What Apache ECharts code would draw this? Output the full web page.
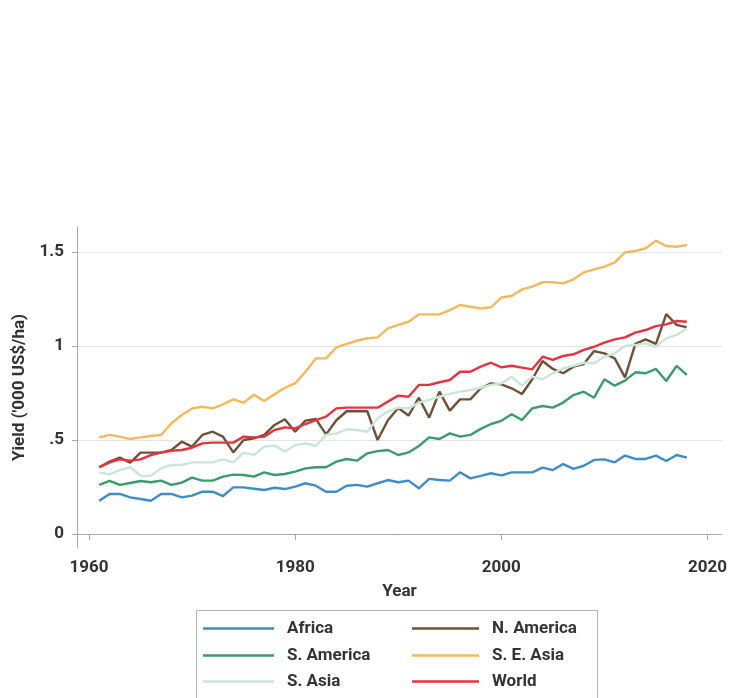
<!DOCTYPE html>
<html>
<head>
<meta charset="utf-8">
<script src="https://cdn.jsdelivr.net/npm/echarts@6/dist/echarts.min.js"></script>
<style>html,body{margin:0;padding:0;background:#fff;}#c{width:730px;height:698px;}</style>
</head>
<body>
<div id="c"></div>
<script>
const years = [1961,1962,1963,1964,1965,1966,1967,1968,1969,1970,1971,1972,1973,1974,1975,1976,1977,1978,1979,
1980,1981,1982,1983,1984,1985,1986,1987,1988,1989,1990,1991,1992,1993,1994,1995,1996,1997,1998,1999,
2000,2001,2002,2003,2004,2005,2006,2007,2008,2009,2010,2011,2012,2013,2014,2015,2016,2017,2018];

const africa = [.177,.213,.213,.195,.186,.177,.213,.213,.195,.204,.225,.225,.202,.248,.248,.241,.234,.246,.239,
.252,.27,.257,.225,.225,.257,.261,.252,.27,.287,.275,.284,.243,.293,.287,.284,.328,.296,.309,.323,
.312,.328,.328,.328,.353,.34,.372,.346,.363,.394,.397,.381,.417,.399,.399,.417,.388,.42,.406];

const nAmerica = [.355,.385,.406,.379,.433,.433,.433,.447,.491,.465,.527,.544,.518,.434,.5,.509,.527,.58,.61,
.544,.603,.612,.53,.605,.653,.653,.653,.5,.605,.67,.63,.725,.619,.757,.656,.716,.716,.775,.801,
.796,.775,.745,.823,.92,.878,.855,.89,.904,.973,.961,.934,.833,1.011,1.035,1.011,1.17,1.112,1.099];

const sAmerica = [.261,.282,.261,.271,.282,.275,.284,.261,.273,.3,.284,.284,.305,.316,.314,.305,.328,.314,.319,
.332,.349,.355,.355,.385,.399,.39,.429,.441,.447,.42,.434,.468,.514,.505,.535,.518,.527,.559,.585,
.602,.637,.606,.668,.681,.672,.699,.739,.757,.725,.823,.789,.816,.86,.855,.878,.814,.894,.846];

const seAsia = [.514,.527,.518,.505,.514,.521,.527,.589,.633,.668,.677,.668,.69,.716,.699,.741,.707,.743,.778,
.801,.863,.934,.934,.993,1.011,1.028,1.041,1.046,1.094,1.112,1.129,1.168,1.168,1.168,1.191,1.218,1.209,1.2,1.206,
1.258,1.266,1.301,1.316,1.34,1.34,1.333,1.355,1.392,1.408,1.422,1.445,1.498,1.505,1.52,1.56,1.532,1.528,1.537];

const sAsia = [.328,.317,.34,.355,.31,.309,.349,.367,.367,.381,.381,.381,.397,.381,.433,.42,.465,.47,.438,
.473,.482,.468,.527,.535,.557,.553,.544,.615,.651,.672,.668,.699,.713,.73,.745,.757,.766,.778,.793,
.801,.837,.789,.837,.823,.855,.881,.895,.911,.908,.943,.961,1.0,1.005,1.014,.996,1.041,1.059,1.094];

const world = [.355,.381,.397,.39,.397,.42,.433,.443,.447,.459,.482,.486,.486,.486,.518,.514,.518,.553,.567,
.562,.585,.606,.624,.668,.672,.672,.672,.672,.704,.736,.73,.793,.793,.807,.819,.863,.863,.89,.911,
.886,.895,.885,.876,.943,.926,.947,.956,.979,.996,1.018,1.035,1.046,1.071,1.085,1.106,1.115,1.133,1.129];

const xTicks = [1960, 1980, 2000, 2020];
const yTicks = [0, 0.5, 1, 1.5];
const yTickLabels = ['0', '.5', '1', '1.5'];

const seriesDefs = [
  {name: 'Africa', data: africa, color: '#3f8ccb'},
  {name: 'N. America', data: nAmerica, color: '#6e5139'},
  {name: 'S. America', data: sAmerica, color: '#3b9c6b'},
  {name: 'S. E. Asia', data: seAsia, color: '#f7b75c'},
  {name: 'S. Asia', data: sAsia, color: '#cbe6d8'},
  {name: 'World', data: world, color: '#e5343f'}
];

// legend layout: [name, line left x, row centre y, line width]
const legendSlots = [
  ['Africa', 203, 628, 71],
  ['S. America', 203, 655, 71],
  ['S. Asia', 203, 681, 71],
  ['N. America', 412, 628, 67],
  ['S. E. Asia', 412, 655, 67],
  ['World', 412, 681, 67]
];

const FONT = 'Roboto, "Liberation Sans", sans-serif';
const TXT = '#333333';
const FS = 17;

const chart = echarts.init(document.getElementById('c'), null, {renderer: 'canvas'});
chart.setOption({
  animation: false,
  backgroundColor: '#ffffff',
  grid: {left: 77, right: 7, top: 227, bottom: 150, containLabel: false},
  xAxis: {
    type: 'value',
    min: 1958.84, max: 2021.4,
    name: 'Year', nameLocation: 'middle', nameGap: 35,
    nameTextStyle: {fontFamily: FONT, fontSize: FS, fontWeight: 'bold', color: TXT},
    axisLine: {show: true, lineStyle: {color: '#a8a8a8', width: 1}},
    axisTick: {show: true, length: 6, lineStyle: {color: '#a8a8a8'}, customValues: xTicks},
    axisLabel: {customValues: xTicks, margin: 11, fontFamily: FONT, fontSize: FS, fontWeight: 'bold', color: TXT,
      formatter: function (v) { return String(Math.round(v)); }},
    splitLine: {show: false}
  },
  yAxis: {
    type: 'value',
    min: -0.0745, max: 1.633,
    name: "Yield ('000 US$/ha)", nameLocation: 'middle', nameGap: 42,
    nameTextStyle: {fontFamily: FONT, fontSize: FS, fontWeight: 'bold', color: TXT},
    axisLine: {show: true, lineStyle: {color: '#a8a8a8', width: 1}},
    axisTick: {show: true, length: 5, lineStyle: {color: '#a8a8a8'}, customValues: yTicks},
    axisLabel: {customValues: yTicks, margin: 13, fontFamily: FONT, fontSize: FS, fontWeight: 'bold', color: TXT,
      formatter: function (v) { const i = yTicks.findIndex(t => Math.abs(t - v) < 1e-6); return i >= 0 ? yTickLabels[i] : ''; }},
    splitLine: {show: true, lineStyle: {color: '#e6e6e6', width: 1}}
  },
  legend: legendSlots.map(s => ({
    left: s[1], top: s[2] - 8,
    data: [s[0]],
    icon: 'rect',
    itemWidth: s[3], itemHeight: 2.6,
    textStyle: {fontFamily: FONT, fontSize: 17, fontWeight: 'bold', color: TXT, padding: [0, 0, 0, 8]},
    selectedMode: false,
    padding: 0
  })),
  graphic: [{
    type: 'rect', left: 196, top: 610, silent: true, z: -1,
    shape: {width: 401, height: 100},
    style: {fill: '#ffffff', stroke: '#b5b5b5', lineWidth: 1}
  }],
  series: seriesDefs.map(s => ({
    name: s.name,
    type: 'line',
    data: years.map((y, i) => [y, s.data[i]]),
    symbol: 'none',
    lineStyle: {color: s.color, width: 2.4},
    itemStyle: {color: s.color},
    emphasis: {disabled: true}
  }))
});
</script>
</body>
</html>
